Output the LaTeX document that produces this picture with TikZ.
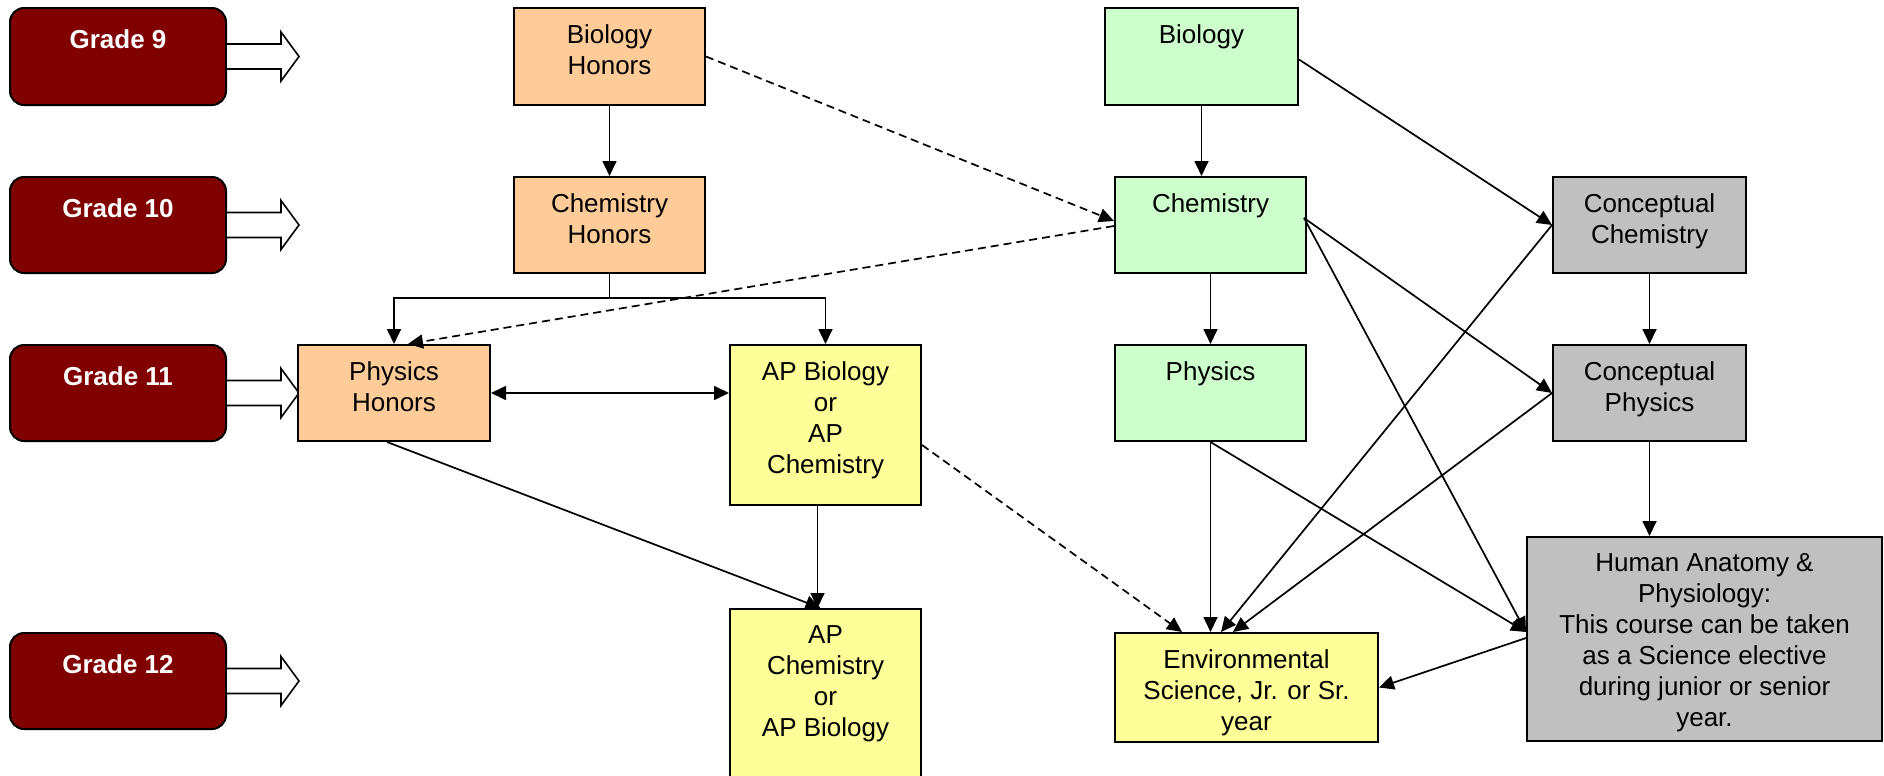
\documentclass[tikz,border=0pt]{standalone}
\usepackage{fontspec}
\setmainfont{Liberation Sans}
\usetikzlibrary{arrows.meta,fit,calc}
\definecolor{gradered}{HTML}{800000}
\definecolor{peach}{HTML}{FFCC99}
\definecolor{mint}{HTML}{CCFFCC}
\definecolor{lemon}{HTML}{FFFF99}
\definecolor{silver}{HTML}{C0C0C0}
\begin{document}
\begin{tikzpicture}[x=0.5pt,y=-0.5pt,
  box/.style={draw=black, line width=1pt, inner sep=0pt, rectangle},
  txt/.style={anchor=north, inner sep=0pt, align=center, yshift=-8.5pt, font=\fontsize{13}{15.5}\selectfont},
  gbox/.style={draw=black, line width=1pt, fill=gradered, rounded corners=7pt, inner sep=0pt},
  gtxt/.style={anchor=north, inner sep=0pt, yshift=-11pt, text=white, font=\fontsize{13}{15.5}\selectfont\bfseries},
  tip/.style={Triangle[length=7.5pt,width=7pt]},
  conn/.style={line width=0.85pt, -{Triangle[length=7.5pt,width=7pt]}},
  dconn/.style={conn, dash pattern=on 4pt off 2.5pt},
  blockarrow/.style={draw=black, line width=0.8pt, fill=white}
]
\useasboundingbox (0,0) rectangle (1884,776);
\clip (0,0) rectangle (1884,776);

% grade boxes
\node[gbox, fit={(10,8) (226,105)}] (g9) {};
\node[gtxt] (g9t) at (g9.north) {Grade 9};
\node[gbox, fit={(10,177) (226,273)}] (g10) {};
\node[gtxt] (g10t) at (g10.north) {Grade 10};
\node[gbox, fit={(10,345) (226,441)}] (g11) {};
\node[gtxt] (g11t) at (g11.north) {Grade 11};
\node[gbox, fit={(10,633) (226,729)}] (g12) {};
\node[gtxt] (g12t) at (g12.north) {Grade 12};
\foreach \g in {g9,g10,g11,g12}{
  \draw[blockarrow] ($(\g.east)+(0,-12.5)$) -- ($(\g.east)+(54,-12.5)$) -- ($(\g.east)+(54,-24.5)$)
    -- ($(\g.east)+(72,0)$) -- ($(\g.east)+(54,24.5)$) -- ($(\g.east)+(54,12.5)$) -- ($(\g.east)+(0,12.5)$);
}

% course boxes
\node[box, fill=peach, fit={(514,8) (705,105)}] (bh) {};
\node[txt] (bht) at (bh.north) {Biology\\Honors};
\node[box, fill=peach, fit={(514,177) (705,273)}] (chh) {};
\node[txt] (chht) at (chh.north) {Chemistry\\Honors};
\node[box, fill=peach, fit={(298,345) (490,441)}] (phh) {};
\node[txt] (phht) at (phh.north) {Physics\\Honors};
\node[box, fill=lemon, fit={(730,345) (921,505)}] (apa) {};
\node[txt] (apat) at (apa.north) {AP Biology\\or\\AP\\Chemistry};
\node[box, fill=lemon, fit={(730,609) (921,800)}] (apb) {};
\node[txt] (apbt) at (apb.north) {AP\\Chemistry\\or\\AP Biology};
\node[box, fill=mint, fit={(1105,8) (1298,105)}] (bio) {};
\node[txt] (biot) at (bio.north) {Biology};
\node[box, fill=mint, fit={(1115,177) (1306,273)}] (chem) {};
\node[txt] (chemt) at (chem.north) {Chemistry};
\node[box, fill=mint, fit={(1115,345) (1306,441)}] (phys) {};
\node[txt] (physt) at (phys.north) {Physics};
\node[box, fill=silver, fit={(1553,177) (1746,273)}] (cc) {};
\node[txt] (cct) at (cc.north) {Conceptual\\Chemistry};
\node[box, fill=silver, fit={(1553,345) (1746,441)}] (cp) {};
\node[txt] (cpt) at (cp.north) {Conceptual\\Physics};
\node[box, fill=lemon, fit={(1115,633) (1378,742)}] (env) {};
\node[txt] (envt) at (env.north) {Environmental\\Science, Jr. or Sr.\\year};
\node[box, fill=silver, fit={(1527,537) (1882,741)}] (ha) {};
\node[txt] (hat) at (ha.north) {Human Anatomy \&\\Physiology:\\This course can be taken\\as a Science elective\\during junior or senior\\year.};

% connectors
\draw[conn] (bh.south) -- (chh.north);
\draw[dconn] (bh.east) -- ($(chem.west)+(0,-4)$);
\coordinate (sp) at ($(chh.south)+(0,24)$);
\draw[line width=0.85pt] (chh.south) -- (sp);
\draw[conn] (sp) -| (phh.north);
\draw[conn] (sp) -| (apa.north);
\draw[dconn] ($(chem.west)+(0,1)$) -- ($(phh.north)+(14,0)$);
\draw[line width=0.85pt, {Triangle[length=7.5pt,width=7pt]}-{Triangle[length=7.5pt,width=7pt]}] (phh.east) -- (phh.east -| apa.west);
\draw[conn] ($(phh.south)+(-7,0)$) -- ($(apb.north)+(-5,0)$);
\draw[conn] ($(apa.south)+(-8,0)$) -- ($(apb.north)+(-8,0)$);
\draw[dconn] ($(apa.east)+(0,20)$) -- ($(env.north west)+(68,0)$);
\draw[conn] (bio.south) -- (bio.south |- chem.north);
\draw[conn] ($(bio.east)+(0,3)$) -- (cc.west);
\draw[conn] (chem.south) -- (phys.north);
\coordinate (chs) at ($(chem.north east)+(-3,42)$);
\draw[conn] (chs) -- (cp.west);
\draw[conn] (chs) -- ($(ha.north west)+(0,96)$);
\draw[conn] (cc.west) -- ($(env.north west)+(107,0)$);
\draw[conn] (cc.south) -- (cp.north);
\draw[conn] (cp.west) -- ($(env.north west)+(119,0)$);
\draw[conn] (cp.south) -- (cp.south |- ha.north);
\draw[conn] (phys.south) -- (phys.south |- env.north);
\draw[conn] (phys.south) -- ($(ha.north west)+(0,96)$);
\draw[conn] ($(ha.north west)+(0,102)$) -- (env.east);
\end{tikzpicture}
\end{document}
